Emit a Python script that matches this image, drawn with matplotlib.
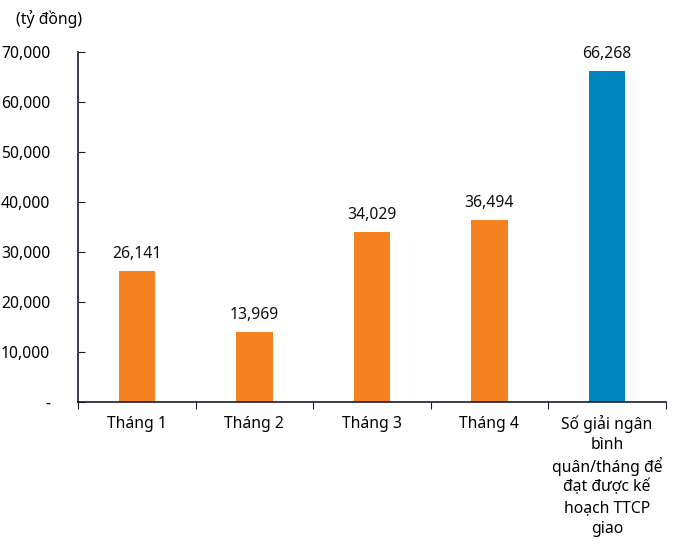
import matplotlib.pyplot as plt
import numpy as np
from matplotlib.ticker import FuncFormatter

plt.rcParams['font.family'] = ['Noto Sans', 'DejaVu Sans']

# Dữ liệu
nhan = ["Tháng 1", "Tháng 2", "Tháng 3", "Tháng 4",
        "Số giải ngân\nbình\nquân/tháng để\nđạt được kế\nhoạch TTCP\ngiao"]
gia_tri = [26141, 13969, 34029, 36494, 66268]
mau = ["#F58220", "#F58220", "#F58220", "#F58220", "#0086BF"]

fig = plt.figure(figsize=(6.8, 5.47), dpi=100)
ax = fig.add_axes([0.1147, 0.265, 0.8643, 0.640])

vi_tri = np.arange(len(gia_tri))
ax.bar(vi_tri, gia_tri, width=0.31, color=mau)

for x, v in zip(vi_tri, gia_tri):
    ax.text(x, v + 1800, f"{v:,}", ha="center", va="bottom", fontsize=11.3, color="#111111")

ax.set_xlim(-0.5, len(gia_tri) - 0.5)
ax.set_ylim(0, 70000)
ax.set_yticks(np.arange(0, 70001, 10000))
ax.yaxis.set_major_formatter(FuncFormatter(lambda v, p: "-" if v == 0 else f"{int(v):,}"))

# Vạch chia ở ranh giới các cột, nhãn viết tay từng dòng cho đều
ax.set_xticks(np.arange(-0.5, len(gia_tri)))
ax.set_xticklabels([])
ax.tick_params(axis="x", direction="out", length=5, color="#1a1a2e")
for x, ten in zip(vi_tri, nhan):
    for i, dong in enumerate(ten.split("\n")):
        ax.annotate(dong, xy=(x, 0), xycoords=("data", "axes fraction"),
                    xytext=(0, -16 - 15.1 * i), textcoords="offset points",
                    ha="center", va="center", fontsize=11.3, annotation_clip=False)

ax.tick_params(axis="y", direction="in", length=5, pad=20, labelsize=11.3, color="#1a1a2e")
for lbl in ax.get_yticklabels():
    lbl.set_horizontalalignment("right")

for s in ["top", "right"]:
    ax.spines[s].set_visible(False)
for s in ["left", "bottom"]:
    ax.spines[s].set_color("#1a1a2e")
    ax.spines[s].set_linewidth(1.2)

fig.text(0.023, 0.966, "(tỷ đồng)", fontsize=11.3, ha="left", va="center")

plt.savefig("out.png")
